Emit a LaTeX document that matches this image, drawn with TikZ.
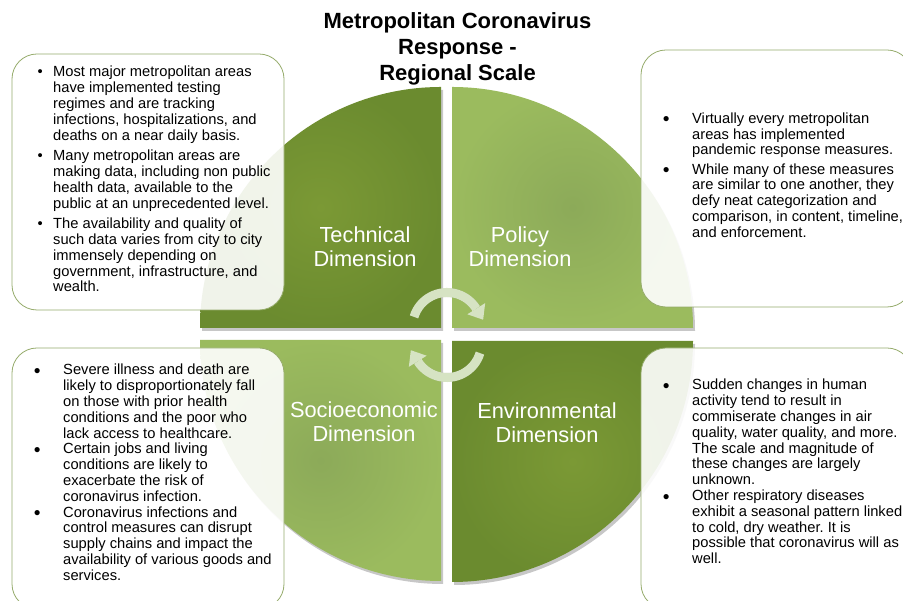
\documentclass[tikz,border=0pt]{standalone}
\usepackage{fontspec}
\setmainfont{Liberation Sans}
\usetikzlibrary{calc}
\frenchspacing
\definecolor{tdark}{RGB}{107,139,47}
\definecolor{tlight}{RGB}{123,153,53}
\definecolor{plight}{RGB}{155,187,94}
\definecolor{pcenter}{RGB}{140,170,89}
\definecolor{boxline}{RGB}{150,172,108}
\definecolor{arrowc}{RGB}{214,227,195}
\newcommand\bitem[4]{\hangindent=#3\hangafter=1\noindent\rlap{\hspace*{#2}\makebox[0pt][c]{#1}}\hspace*{#3}#4\par}
\newcommand\bigdot{{\fontsize{12}{12}\selectfont\raisebox{0.5pt}{●}}}
\newcommand\bodyfont{\fontsize{14.7}{15.8}\selectfont\frenchspacing}
\newcommand\labfont{\fontsize{21.8}{24}\selectfont}
\tikzset{
  quaddark/.style={shading=radial, inner color=tlight, outer color=tdark},
  quadlight/.style={shading=radial, inner color=pcenter, outer color=plight},
  quadshadow/.style={fill=black, opacity=0.22},
  infobox/.style={draw=boxline, line width=0.8pt, fill=white, fill opacity=0.9, rounded corners=25pt, inner sep=0pt},
  bodytext/.style={anchor=base west, inner sep=0pt, text=black},
  dimlabel/.style={anchor=base, inner sep=0pt, text=white},
  arrowband/.style={draw=arrowc, line width=9pt},
  arrowhead/.style={fill=arrowc},
  arrowshadow/.style={draw=black, opacity=0.12, line width=9pt}
}
\begin{document}
\begin{tikzpicture}[x=1pt,y=1pt]
\useasboundingbox (0,0) rectangle (903,601);
\fill[white] (0,0) rectangle (903,601);

% quadrant shadows
\begin{scope}[shift={(2,-3)}]
\fill[quadshadow] (441,273) -- (200,273) arc[start angle=180,end angle=90,radius=241pt] -- cycle;
\fill[quadshadow] (452,273) -- (452,514) arc[start angle=90,end angle=0,radius=241pt] -- cycle;
\fill[quadshadow] (441,261) -- (200,261) arc[start angle=180,end angle=270,radius=241pt] -- cycle;
\fill[quadshadow] (452,260) -- (693,260) arc[start angle=0,end angle=-90,radius=241pt] -- cycle;
\end{scope}

% quadrants
\shade[quaddark] (441,273) -- (200,273) arc[start angle=180,end angle=90,radius=241pt] -- cycle;
\shade[quadlight] (452,273) -- (452,514) arc[start angle=90,end angle=0,radius=241pt] -- cycle;
\shade[quadlight] (441,261) -- (200,261) arc[start angle=180,end angle=270,radius=241pt] -- cycle;
\shade[quaddark] (452,260) -- (693,260) arc[start angle=0,end angle=-90,radius=241pt] -- cycle;

% cycle arrows
\coordinate (ctop) at (447,274);
\coordinate (cbot) at (447,258);
\begin{scope}[shift={(1.5,-1.5)}]
\draw[arrowshadow] ($(ctop)+(163:34.5pt)$) arc[start angle=163,end angle=32,radius=34.5pt];
\draw[arrowshadow] ($(cbot)+(343:34.5pt)$) arc[start angle=343,end angle=212,radius=34.5pt];
\end{scope}
\draw[arrowband] ($(ctop)+(163:34.5pt)$) arc[start angle=163,end angle=32,radius=34.5pt];
\fill[arrowhead] ($(ctop)+(32:45pt)$) -- ($(ctop)+(32:24pt)$) -- ($(ctop)+(32:34.5pt)+(-58:13pt)$) -- cycle;
\draw[arrowband] ($(cbot)+(343:34.5pt)$) arc[start angle=343,end angle=212,radius=34.5pt];
\fill[arrowhead] ($(cbot)+(212:45pt)$) -- ($(cbot)+(212:24pt)$) -- ($(cbot)+(212:34.5pt)+(122:13pt)$) -- cycle;

% quadrant labels
\node[dimlabel] (ltech) at (365,358) {\parbox[t]{200pt}{\centering\labfont Technical\\Dimension}};
\node[dimlabel] (lpol) at (520,358) {\parbox[t]{200pt}{\centering\labfont Policy\\Dimension}};
\node[dimlabel] (lsoc) at (364,183) {\parbox[t]{200pt}{\centering\labfont Socioeconomic\\Dimension}};
\node[dimlabel] (lenv) at (547,182) {\parbox[t]{200pt}{\centering\labfont Environmental\\Dimension}};

% info boxes
\node[infobox, minimum width=272pt, minimum height=256pt] (b1) at (148,419) {};
\node[infobox, minimum width=271pt, minimum height=257pt] (b2) at (776.5,422.5) {};
\node[infobox, minimum width=272pt, minimum height=261pt] (b3) at (148,122.5) {};
\node[infobox, minimum width=271pt, minimum height=261pt] (b4) at (776.5,122.5) {};

% box texts
\node[bodytext] (t1) at (33,524) {\parbox[t]{260pt}{\bodyfont\setlength\parskip{4.8pt}%
\bitem{•}{7pt}{20pt}{Most major metropolitan areas\\have implemented testing\\regimes and are tracking\\infections, hospitalizations, and\\deaths on a near daily basis.}
\bitem{•}{7pt}{20pt}{Many metropolitan areas are\\making data, including non public\\health data, available to the\\public at an unprecedented level.}
\bitem{•}{7pt}{20pt}{The availability and quality of\\such data varies from city to city\\immensely depending on\\government, infrastructure, and\\wealth.}}};

\node[bodytext] (t2) at (656,477.7) {\parbox[t]{260pt}{\bodyfont\setlength\parskip{3.4pt}%
\bitem{\bigdot}{10pt}{36pt}{Virtually every metropolitan\\areas has implemented\\pandemic response measures.}
\bitem{\bigdot}{10pt}{36pt}{While many of these measures\\are similar to one another, they\\defy neat categorization and\\comparison, in content, timeline,\\and enforcement.}}};

\node[bodytext] (t3) at (27,226) {\parbox[t]{260pt}{\bodyfont\setlength\parskip{0pt}%
\bitem{\bigdot}{10pt}{36pt}{Severe illness and death are\\likely to disproportionately fall\\on those with prior health\\conditions and the poor who\\lack access to healthcare.}
\bitem{\bigdot}{10pt}{36pt}{Certain jobs and living\\conditions are likely to\\exacerbate the risk of\\coronavirus infection.}
\bitem{\bigdot}{10pt}{36pt}{Coronavirus infections and\\control measures can disrupt\\supply chains and impact the\\availability of various goods and\\services.}}};

\node[bodytext] (t4) at (656,211) {\parbox[t]{260pt}{\bodyfont\setlength\parskip{0pt}%
\bitem{\bigdot}{10pt}{36pt}{Sudden changes in human\\activity tend to result in\\commiserate changes in air\\quality, water quality, and more.\\The scale and magnitude of\\these changes are largely\\unknown.}
\bitem{\bigdot}{10pt}{36pt}{Other respiratory diseases\\exhibit a seasonal pattern linked\\to cold, dry weather. It is\\possible that coronavirus will as\\well.}}};

% title
\node[anchor=base, inner sep=0pt] (title) at (457.5,572.7) {\parbox[t]{320pt}{\centering\bfseries\fontsize{22}{26}\selectfont Metropolitan Coronavirus\\Response -\\Regional Scale}};
\end{tikzpicture}
\end{document}
